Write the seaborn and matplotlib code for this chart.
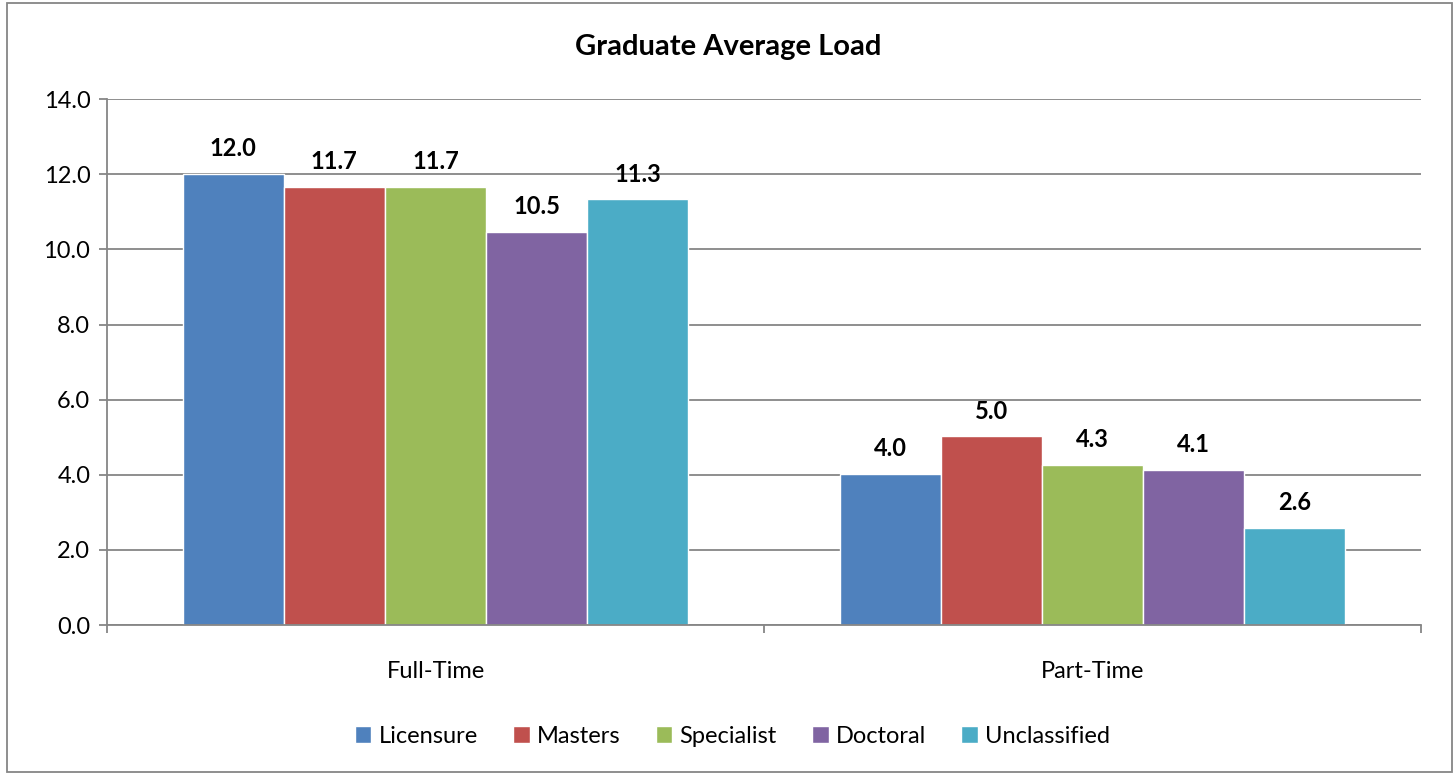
import seaborn as sns
import pandas as pd
import matplotlib.pyplot as plt
from matplotlib.patches import Rectangle

# data
statuses = ['Full-Time', 'Part-Time']
programs = ['Licensure', 'Masters', 'Specialist', 'Doctoral', 'Unclassified']
full_time = [12.0, 11.66, 11.66, 10.46, 11.33]
part_time = [4.03, 5.02, 4.26, 4.13, 2.59]
colors = ['#4F81BD', '#C0504D', '#9BBB59', '#8064A2', '#4BACC6']

rows = []
for p, v in zip(programs, full_time):
    rows.append(['Full-Time', p, v])
for p, v in zip(programs, part_time):
    rows.append(['Part-Time', p, v])
df = pd.DataFrame(rows, columns=['Status', 'Program', 'Load'])

sns.set_style("white", {'text.color': 'black', 'xtick.color': 'black', 'ytick.color': 'black'})
plt.rcParams['font.family'] = ['Lato', 'DejaVu Sans']

fig = plt.figure(figsize=(14.56, 7.75), dpi=100)
ax = fig.add_axes([0.0735, 0.1935, 0.9025, 0.6785])

sns.barplot(data=df, x='Status', y='Load', hue='Program', order=statuses,
            hue_order=programs, palette=colors, saturation=1, width=0.77,
            gap=0, ax=ax, legend=True)

for c in ax.containers:
    ax.bar_label(c, fmt='%.1f', fontweight='bold', fontsize=17, padding=10, color='black')

ax.set_ylim(0, 14)
ax.set_yticks(range(0, 15, 2))
ax.set_yticklabels([f'{v:.1f}' for v in range(0, 15, 2)], fontsize=17)
ax.set_xlim(-0.5, 1.5)
ax.set_xticks([0, 1])
ax.set_xticklabels(statuses, fontsize=17)
ax.set_xticks([-0.5, 0.5, 1.5], minor=True)
ax.tick_params(axis='x', which='major', length=0, pad=26, labelcolor='black')
ax.tick_params(axis='x', which='minor', bottom=True, length=6, color='#868686', width=1.3)
ax.tick_params(axis='y', which='major', left=True, length=6, color='#868686', width=1.3,
               pad=6, labelcolor='black')
ax.set_xlabel('')
ax.set_ylabel('')

ax.yaxis.grid(True, color='#868686', linewidth=1.3)
ax.set_axisbelow(True)
for s in ['top', 'right']:
    ax.spines[s].set_visible(False)
for s in ['left', 'bottom']:
    ax.spines[s].set_color('#868686')
    ax.spines[s].set_linewidth(1.3)

fig.suptitle('Graduate Average Load', fontsize=21, fontweight='bold', color='black',
             x=0.5, y=0.939, va='center')

handles, labels = ax.get_legend_handles_labels()
ax.legend_.remove()
leg = fig.legend(handles, labels, loc='center', bbox_to_anchor=(0.503, 0.05), ncol=5,
                 frameon=False, fontsize=17, handlelength=0.7, handleheight=0.7,
                 handletextpad=0.3, columnspacing=1.5)
for t in leg.get_texts():
    t.set_color('black')

fig.patches.append(Rectangle((0.005, 0.004), 0.992, 0.992, transform=fig.transFigure,
                             fill=False, edgecolor='#868686', linewidth=1.3))

fig.savefig('out.png', dpi=100)
